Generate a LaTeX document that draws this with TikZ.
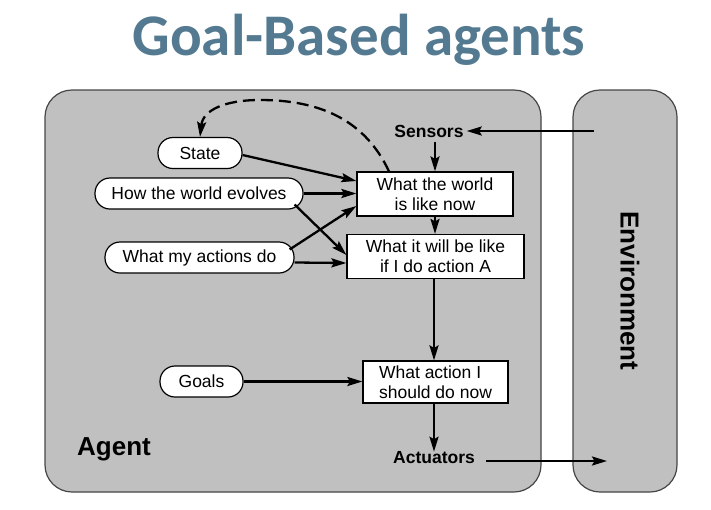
\documentclass[tikz,border=0pt]{standalone}
\usepackage{fontspec}
\setmainfont{Liberation Sans}
\newfontfamily\titlefont{Carlito}
\usetikzlibrary{arrows.meta}
\definecolor{titleblue}{RGB}{84,122,145}
\definecolor{panelgray}{RGB}{192,192,192}
\definecolor{paneledge}{RGB}{70,70,70}
\begin{document}
\begin{tikzpicture}[x=1pt,y=-1pt,
  panel/.style={draw=paneledge,fill=panelgray,line width=1.2pt,rounded corners=27pt},
  pill/.style={draw=black,fill=white,line width=1.2pt,rounded corners=15pt,minimum height=31pt,inner sep=0pt,font=\fontsize{17.5}{20}\selectfont},
  rect/.style={draw=black,fill=white,line width=1.2pt,minimum height=44pt,inner sep=0pt,font=\fontsize{17.5}{20}\selectfont},
  lbl/.style={inner sep=0pt,font=\fontsize{17.5}{20}\selectfont\bfseries},
  conn/.style={line width=2.3pt,-{Stealth[length=15pt,width=9pt,inset=2.5pt]}},
]
\useasboundingbox (0,0) rectangle (711,509);
% title
\node[inner sep=0pt,anchor=base,text=titleblue,font=\titlefont\fontsize{59}{60}\selectfont\bfseries] (title) at (359,55) {Goal-Based agents};
% panels
\draw[panel] (45,90) rectangle (541,492);
\draw[panel] (573,90) rectangle (677,492);
\node[inner sep=0pt,rotate=-90,font=\fontsize{26}{28}\selectfont\bfseries] (env) at (630,291) {Environment};
\node[inner sep=0pt,anchor=base west,font=\fontsize{26}{28}\selectfont\bfseries] (agent) at (77,455) {Agent};
% labels
\node[lbl] (sensors) at (429,131) {Sensors};
\node[lbl] (actuators) at (434,458) {Actuators};
% pills
\node[pill,minimum width=84pt] (state) at (200,153) {State};
\node[pill,minimum width=208pt] (how) at (199,193.5) {How the world evolves};
\node[pill,minimum width=189pt] (what) at (199.5,257.5) {What my actions do};
\node[pill,minimum width=83pt] (goals) at (201.5,381.5) {Goals};
% boxes
\node[rect,minimum width=156pt,align=center] (world) at (435,194) {What the world\\is like now};
\node[rect,minimum width=177pt,align=center] (will) at (435.5,256.5) {What it will be like\\if I do action A};
\node[rect,minimum width=145pt,minimum height=42pt,align=left] (act) at (435.5,382) {What action I\\should do now};
% connectors
\coordinate (envin) at (594,131);
\coordinate (envout) at (607,461);
\coordinate (aout) at (486,461);
\coordinate (sdown) at (435,142);
\draw[conn] (envin) -- ([xshift=3pt]sensors.east);
\draw[conn] (sdown) -- (world.north -| sdown);
\draw[conn] ([yshift=-2pt]state.east) -- (world.west |- 0,181);
\draw[conn] (how.east) -- (world.west |- how.east);
\draw[conn] ([xshift=-9pt,yshift=-11pt]how.east) -- (will.west |- 0,255);
\draw[conn] ([xshift=-5pt,yshift=8pt]what.east) -- (world.west |- 0,206);
\draw[conn] ([yshift=-5pt]what.east) -- (will.west |- 0,263);
\draw[conn] (world.south -| 435,0) -- (will.north -| 435,0);
\draw[conn] (will.south -| 434,0) -- (act.north -| 434,0);
\draw[conn] (goals.east) -- (act.west |- goals.east);
\draw[conn] (act.south -| 434,0) -- (actuators.north -| 434,0);
\draw[conn] (aout) -- (envout);
\draw[line width=2.3pt,dash pattern=on 12pt off 6pt,-{Stealth[length=15pt,width=9pt,inset=2.5pt]}]
  (world.north -| 389,0) .. controls (365,120) and (320,100) .. (260,100)
  .. controls (225,100) and (203,110) .. (state.north);
\end{tikzpicture}
\end{document}
